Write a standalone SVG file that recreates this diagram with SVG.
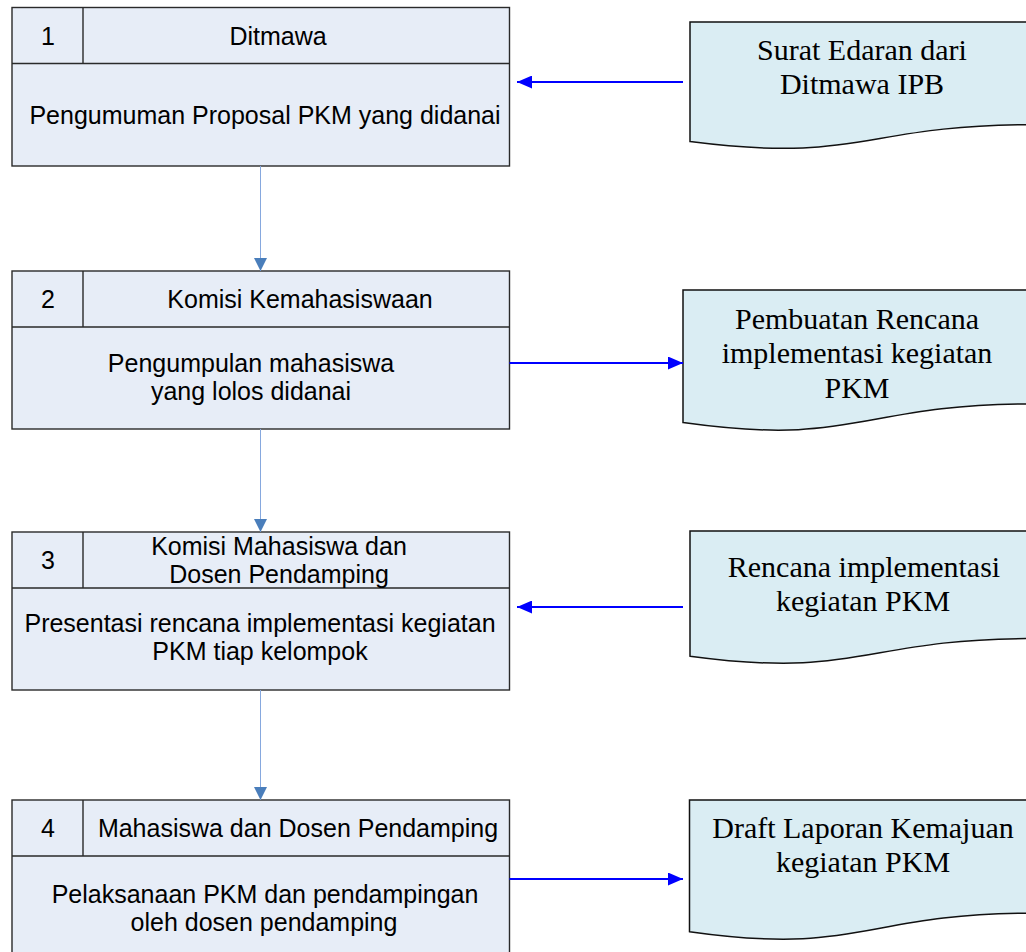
<svg xmlns="http://www.w3.org/2000/svg" width="1026" height="952" viewBox="0 0 1026 952">
  <defs>
    <style>
      .step { fill: #e7edf7; stroke: #2a2a2a; stroke-width: 1.4; }
      .rule { stroke: #2a2a2a; stroke-width: 1.4; fill: none; }
      .doc { fill: #daedf3; stroke: #111; stroke-width: 1.5; }
      .sans { font-family: "Liberation Sans", Arial, sans-serif; font-size: 25px; fill: #000; text-anchor: middle; }
      .serif { font-family: "Liberation Serif", "Times New Roman", serif; font-size: 30px; fill: #000; text-anchor: middle; }
      .flow { stroke: #86a8de; stroke-width: 1; fill: none; }
      .io { stroke: #0000ff; stroke-width: 2; fill: none; }
    </style>
    <marker id="headFlow" viewBox="0 0 13 13" refX="13" refY="6.5" markerWidth="13" markerHeight="13" markerUnits="userSpaceOnUse" orient="auto">
      <path d="M0,0 L13,6.5 L0,13 Z" fill="#4a7ebb"/>
    </marker>
    <marker id="headIo" viewBox="0 0 15 13" refX="15" refY="6.5" markerWidth="15" markerHeight="13" markerUnits="userSpaceOnUse" orient="auto">
      <path d="M0,0 L15,6.5 L0,13 Z" fill="#0000ff"/>
    </marker>
  </defs>

  <rect width="1026" height="952" fill="#ffffff"/>

  <!-- process steps -->
  <g id="step1">
    <rect class="step" x="12" y="7.5" width="497.5" height="158.5"/>
    <path class="rule" d="M12,63.5 H509.5 M83,7.5 V63.5"/>
    <text class="sans" x="48" y="45">1</text>
    <text class="sans" x="278" y="45">Ditmawa</text>
    <text class="sans" x="265" y="124">Pengumuman Proposal PKM yang didanai</text>
  </g>

  <g id="step2">
    <rect class="step" x="12" y="271" width="497.5" height="158"/>
    <path class="rule" d="M12,327 H509.5 M83,271 V327"/>
    <text class="sans" x="48" y="308">2</text>
    <text class="sans" x="300" y="308">Komisi Kemahasiswaan</text>
    <text class="sans" x="251" y="372">Pengumpulan mahasiswa</text>
    <text class="sans" x="251" y="400">yang lolos didanai</text>
  </g>

  <g id="step3">
    <rect class="step" x="12" y="532" width="497.5" height="158"/>
    <path class="rule" d="M12,588 H509.5 M83,532 V588"/>
    <text class="sans" x="48" y="569">3</text>
    <text class="sans" x="279" y="555">Komisi Mahasiswa dan</text>
    <text class="sans" x="279" y="583">Dosen Pendamping</text>
    <text class="sans" x="260" y="632">Presentasi rencana implementasi kegiatan</text>
    <text class="sans" x="260" y="660">PKM tiap kelompok</text>
  </g>

  <g id="step4">
    <rect class="step" x="12" y="800" width="497.5" height="158"/>
    <path class="rule" d="M12,856 H509.5 M83,800 V856"/>
    <text class="sans" x="48" y="837">4</text>
    <text class="sans" x="298" y="837">Mahasiswa dan Dosen Pendamping</text>
    <text class="sans" x="265" y="903">Pelaksanaan PKM dan pendampingan</text>
    <text class="sans" x="264" y="931">oleh dosen pendamping</text>
  </g>

  <!-- documents -->
  <g id="doc1">
    <path class="doc" d="M690,22 H1034 V124.7 C862,124.7 862,163.7 690,141.6 Z"/>
    <text class="serif" x="862" y="60">Surat Edaran dari</text>
    <text class="serif" x="862" y="94">Ditmawa IPB</text>
  </g>

  <g id="doc2">
    <path class="doc" d="M683,290 H1034 V403.9 C858.5,403.9 858.5,447.2 683,422.6 Z"/>
    <text class="serif" x="857" y="329">Pembuatan Rencana</text>
    <text class="serif" x="857" y="363">implementasi kegiatan</text>
    <text class="serif" x="857" y="398">PKM</text>
  </g>

  <g id="doc3">
    <path class="doc" d="M690,531 H1034 V638.5 C862,638.5 862,679.3 690,656.2 Z"/>
    <text class="serif" x="864" y="577">Rencana implementasi</text>
    <text class="serif" x="863" y="611">kegiatan PKM</text>
  </g>

  <g id="doc4">
    <path class="doc" d="M689.5,800 H1034 V913.1 C862,913.1 862,956.1 689.5,931.7 Z"/>
    <text class="serif" x="863" y="838">Draft Laporan Kemajuan</text>
    <text class="serif" x="863" y="872">kegiatan PKM</text>
  </g>

  <!-- connectors -->
  <g id="connectors">
    <line class="flow" x1="260.5" y1="166" x2="260.5" y2="271" marker-end="url(#headFlow)"/>
    <line class="flow" x1="260.5" y1="429" x2="260.5" y2="532" marker-end="url(#headFlow)"/>
    <line class="flow" x1="260.5" y1="690" x2="260.5" y2="800" marker-end="url(#headFlow)"/>
    <line class="io" x1="683" y1="82" x2="517" y2="82" marker-end="url(#headIo)"/>
    <line class="io" x1="509.5" y1="363" x2="683" y2="363" marker-end="url(#headIo)"/>
    <line class="io" x1="683" y1="607" x2="517" y2="607" marker-end="url(#headIo)"/>
    <line class="io" x1="509.5" y1="879" x2="683" y2="879" marker-end="url(#headIo)"/>
  </g>
</svg>
